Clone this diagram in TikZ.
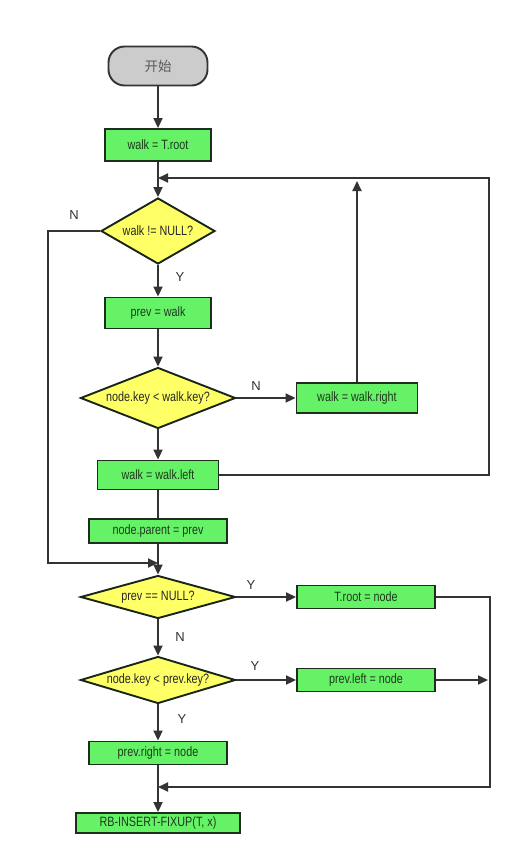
\documentclass[tikz,border=0pt]{standalone}
\usepackage{fontspec}
\setmainfont{Liberation Sans}[FakeStretch=0.8]
\newfontfamily\lblfont{Liberation Sans}
\newfontfamily\cjk{Noto Sans CJK SC}
\usetikzlibrary{shapes.geometric,arrows.meta}
\definecolor{boxgreen}{HTML}{66F266}
\definecolor{boxyellow}{HTML}{FFFF66}
\definecolor{boxgrey}{HTML}{CCCCCC}
\definecolor{lineclr}{HTML}{333333}
\definecolor{txtgreen}{HTML}{1E3A1E}
\definecolor{bordgreen}{HTML}{1E2E1E}
\newcommand{\dtext}[1]{\makebox[0pt]{#1}}
\begin{document}
\begin{tikzpicture}[x=1pt,y=-1pt,
  every node/.style={font=\fontsize{13.5}{15}\selectfont},
  procbox/.style={draw=bordgreen,fill=boxgreen,text=txtgreen,line width=1.9pt,inner sep=0pt,rectangle},
  decbox/.style={draw=bordgreen!80!black,fill=boxyellow,text=black!85,line width=1.9pt,inner sep=0pt,diamond},
  termbox/.style={draw=lineclr,fill=boxgrey,text=black!65,line width=1.9pt,rounded corners=16pt,inner sep=0pt,minimum width=99pt,minimum height=39pt},
  conn/.style={draw=lineclr,line width=1.9pt},
  arr/.style={conn,-{Triangle[length=10pt,width=9pt]}},
  lbl/.style={text=lineclr,font=\lblfont\fontsize{13}{15}\selectfont,inner sep=0pt}
]
\useasboundingbox (0,0) rectangle (531,865);

\node[termbox] (start) at (158,66) {\cjk 开始};
\node[procbox,minimum width=106pt,minimum height=32pt] (root) at (158,145) {walk = T.root};
\node[decbox,minimum width=114pt,minimum height=66pt] (d1) at (158,231) {\dtext{walk != NULL?}};
\node[procbox,minimum width=106pt,minimum height=31pt] (prev) at (158,313) {prev = walk};
\node[decbox,minimum width=155pt,minimum height=61pt] (d2) at (158,398) {\dtext{node.key < walk.key?}};
\node[procbox,minimum width=121pt,minimum height=30pt] (wright) at (357,398) {walk = walk.right};
\node[procbox,minimum width=121pt,minimum height=29pt] (wleft) at (158,475) {walk = walk.left};
\node[procbox,minimum width=138pt,minimum height=24pt] (npar) at (158,531) {node.parent = prev};
\node[decbox,minimum width=155pt,minimum height=43pt] (d3) at (158,597) {\dtext{prev == NULL?}};
\node[procbox,minimum width=138pt,minimum height=23pt] (troot) at (366,597) {T.root = node};
\node[decbox,minimum width=155pt,minimum height=47pt] (d4) at (158,680) {\dtext{node.key < prev.key?}};
\node[procbox,minimum width=138pt,minimum height=23pt] (pleft) at (366,680) {prev.left = node};
\node[procbox,minimum width=138pt,minimum height=23pt] (pright) at (158,753) {prev.right = node};
\node[procbox,minimum width=164pt,minimum height=20pt] (fix) at (158,823) {RB-INSERT-FIXUP(T, x)};

\coordinate (j1) at (158,178);
\coordinate (c1) at (489,178);
\coordinate (up) at (357,181);
\coordinate (c2) at (48,563);
\coordinate (j2) at (158,563);
\coordinate (pl) at (488,680);
\coordinate (c3) at (490,787);
\coordinate (j3) at (158,787);

\draw[arr] (start) -- (root);
\draw[arr] (root) -- (d1);
\draw[arr] (wleft.east) -| (c1) -- (j1);
\draw[arr] (wright.north) -- (up);
\draw[arr] (d1) -- (prev);
\draw[arr] (d1.west) -| (c2) -- (j2);
\draw[arr] (prev) -- (d2);
\draw[arr] (d2.east) -- (wright.west);
\draw[arr] (d2) -- (wleft);
\draw[conn] (wleft) -- (npar);
\draw[arr] (npar) -- (d3);
\draw[arr] (d3.east) -- (troot.west);
\draw[arr] (d3) -- (d4);
\draw[arr] (d4.east) -- (pleft.west);
\draw[arr] (d4) -- (pright);
\draw[arr] (pleft.east) -- (pl);
\draw[arr] (troot.east) -| (c3) -- (j3);
\draw[arr] (pright) -- (fix);

\node[lbl] (lN1) at (74,215) {N};
\node[lbl] (lY1) at (180,277) {Y};
\node[lbl] (lN2) at (256,386) {N};
\node[lbl] (lY2) at (251,585) {Y};
\node[lbl] (lN3) at (180,637) {N};
\node[lbl] (lY3) at (255,666) {Y};
\node[lbl] (lY4) at (182,719) {Y};
\end{tikzpicture}
\end{document}
